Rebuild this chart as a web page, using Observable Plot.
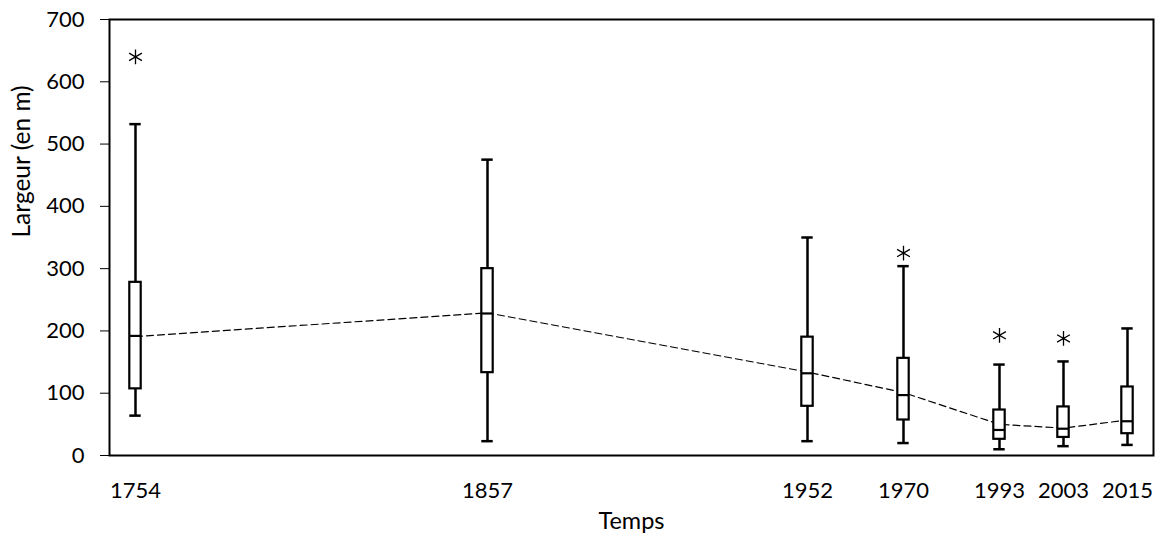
<!DOCTYPE html>
<html>
<head>
<meta charset="utf-8">
<script src="https://cdn.jsdelivr.net/npm/d3@7"></script>
<script src="https://cdn.jsdelivr.net/npm/@observablehq/plot@0.6"></script>
<style>
  html, body { margin: 0; padding: 0; background: #fff; }
  #chart svg { display: block; }
</style>
</head>
<body>
<div id="chart"></div>
<script>
// Years (categories) and their slot on the original category axis (32 slots, most unlabeled)
const years = ["1754", "1857", "1952", "1970", "1993", "2003", "2015"];
const categorySlot = [0, 11, 21, 24, 27, 29, 31];
const slotCount = 32;

// Box-plot statistics (width in m)
const whiskerLow  = [64, 23, 23, 20, 10, 15, 17];
const q1          = [107, 133, 79, 57, 26, 29, 35];
const median      = [192, 228, 132, 97, 41, 43, 55];
const q3          = [278, 300, 190, 156, 73, 78, 110];
const whiskerHigh = [532, 475, 350, 304, 146, 151, 204];
const mean        = [191, 229, 134, 101, 50, 44, 57];

// Outliers
const outlierYears  = ["1754", "1970", "1993", "2003"];
const outlierValues = [640, 325, 193, 188];

const yTicks = [0, 100, 200, 300, 400, 500, 600, 700];
const xTitle = "Temps";
const yTitle = "Largeur (en m)";

const slotOf = new Map(years.map((y, i) => [y, categorySlot[i]]));
const yearOfSlot = new Map(categorySlot.map((s, i) => [s, years[i]]));

const boxes = years.map((y, i) => ({
  slot: categorySlot[i], year: y,
  low: whiskerLow[i], q1: q1[i], median: median[i], q3: q3[i], high: whiskerHigh[i], mean: mean[i]
}));
const outliers = outlierYears.map((y, i) => ({slot: slotOf.get(y), value: outlierValues[i]}));

const font = "Lato, 'Open Sans', sans-serif";
const inset = 10.3;

const chart = Plot.plot({
  width: 1169,
  height: 542,
  marginTop: 19,
  marginBottom: 87,
  marginLeft: 109,
  marginRight: 16,
  style: {fontFamily: font, fontSize: "22px", color: "#000", background: "#fff"},
  x: {type: "band", domain: d3.range(slotCount), padding: 0},
  y: {domain: [0, 700]},
  marks: [
    Plot.axisY({
      ticks: yTicks, tickSize: 9, tickPadding: 16, strokeWidth: 1,
      label: null, fontSize: 22
    }),
    Plot.axisX({
      ticks: categorySlot, tickFormat: (d) => yearOfSlot.get(d), tickSize: 0, tickPadding: 27,
      label: null, fontSize: 22
    }),
    Plot.text([xTitle], {frameAnchor: "bottom", dy: 73, fontSize: 23.5, fill: "#000"}),
    Plot.text([yTitle], {frameAnchor: "left", rotate: -90, dx: -87, fontSize: 24.5, fill: "#000"}),
    Plot.line(boxes, {x: "slot", y: "mean", stroke: "#000", strokeWidth: 1.2, strokeDasharray: "7,4"}),
    Plot.ruleX(boxes, {x: "slot", y1: "low", y2: "high", stroke: "#000", strokeWidth: 2.5}),
    Plot.tickY(boxes, {x: "slot", y: "low", stroke: "#000", strokeWidth: 2.5, insetLeft: inset, insetRight: inset}),
    Plot.tickY(boxes, {x: "slot", y: "high", stroke: "#000", strokeWidth: 2.5, insetLeft: inset, insetRight: inset}),
    Plot.barY(boxes, {x: "slot", y1: "q1", y2: "q3", fill: "#fff", stroke: "#000", strokeWidth: 2.2, insetLeft: inset, insetRight: inset}),
    Plot.tickY(boxes, {x: "slot", y: "median", stroke: "#000", strokeWidth: 2.2, insetLeft: inset, insetRight: inset}),
    Plot.dot(outliers, {x: "slot", y: "value", symbol: "asterisk", r: 7, stroke: "#000", strokeWidth: 1.3}),
    Plot.frame({stroke: "#000", strokeWidth: 2})
  ]
});

document.getElementById("chart").appendChild(chart);
</script>
</body>
</html>
